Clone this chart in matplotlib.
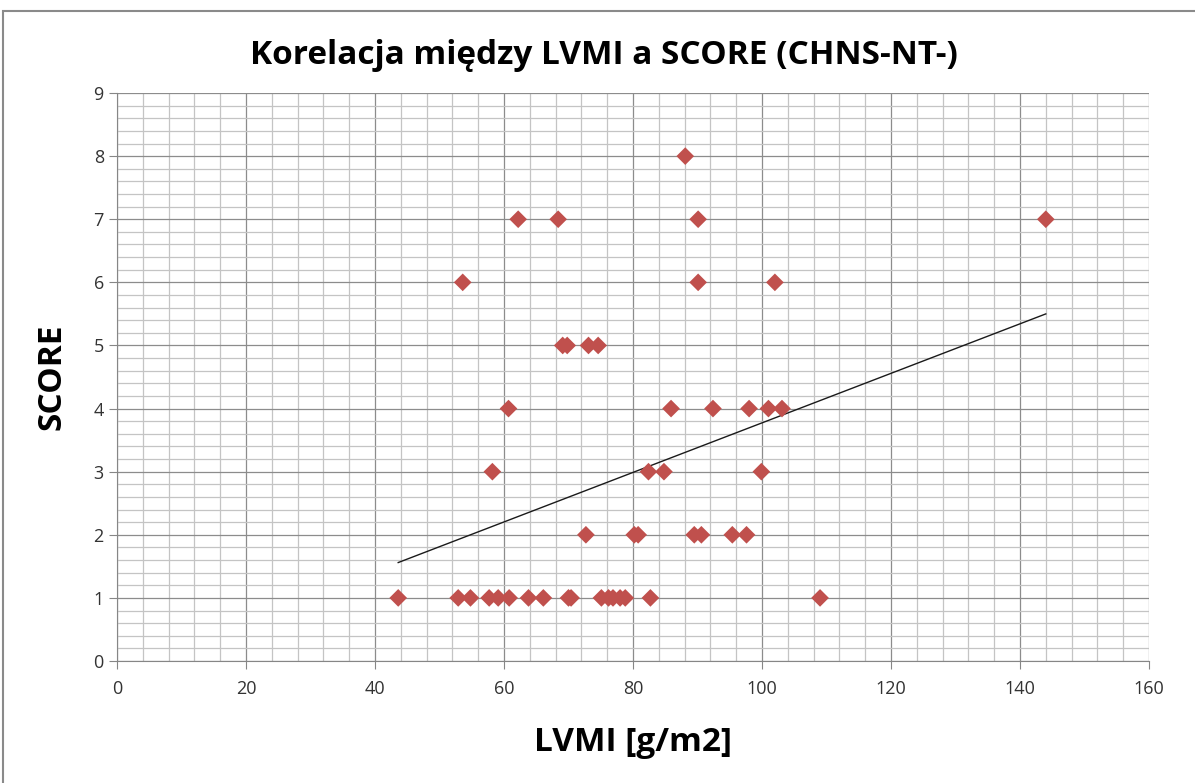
import matplotlib.pyplot as plt
import numpy as np
from matplotlib.ticker import MultipleLocator
from matplotlib.patches import Rectangle

# LVMI [g/m2] and SCORE values
lvmi = [43.6, 52.9, 54.8, 57.7, 59.1, 60.8, 63.8, 66.1, 70.0, 70.4,
        75.1, 76.2, 76.9, 78.0, 78.8, 82.7, 109.0,
        72.7, 80.2, 80.8, 89.5, 90.6, 95.4, 97.6,
        58.2, 82.4, 84.8, 99.9,
        60.7, 85.9, 92.4, 98.0, 101.0, 103.1,
        69.1, 69.8, 73.1, 74.6,
        53.6, 90.1, 102.0,
        62.2, 68.4, 90.1, 144.0,
        88.1]
score = [1, 1, 1, 1, 1, 1, 1, 1, 1, 1,
         1, 1, 1, 1, 1, 1, 1,
         2, 2, 2, 2, 2, 2, 2,
         3, 3, 3, 3,
         4, 4, 4, 4, 4, 4,
         5, 5, 5, 5,
         6, 6, 6,
         7, 7, 7, 7,
         8]

# linear trend line as drawn in the chart (end points)
trend_x = [43.6, 144.0]
trend_y = [1.56, 5.50]

fig = plt.figure(figsize=(11.95, 7.83), dpi=100)
ax = fig.add_axes([0.0979, 0.1558, 0.8636, 0.7254])

# outer chart frame
fig.patches.append(Rectangle((0.0025, -0.01), 1.2, 0.996, transform=fig.transFigure,
                             fill=False, edgecolor='#8a8a8a', linewidth=1.5))

ax.scatter(lvmi, score, marker='D', s=9.0**2, color='#C0504D', edgecolors='none', zorder=3)
ax.plot(trend_x, trend_y, color='#1a1a1a', linewidth=1.0, zorder=2)

ax.set_xlim(0, 160)
ax.set_ylim(0, 9)
ax.xaxis.set_major_locator(MultipleLocator(20))
ax.xaxis.set_minor_locator(MultipleLocator(4))
ax.yaxis.set_major_locator(MultipleLocator(1))
ax.yaxis.set_minor_locator(MultipleLocator(0.2))
ax.grid(which='major', color='#8c8c8c', linewidth=0.9)
ax.grid(which='minor', color='#c4c4c4', linewidth=0.9)
ax.set_axisbelow(True)

for side in ['top', 'right']:
    ax.spines[side].set_visible(False)
for side in ['left', 'bottom']:
    ax.spines[side].set_color('#868686')
ax.tick_params(which='major', length=6, color='#868686', labelsize=13, labelcolor='#333333')
ax.tick_params(which='minor', length=0)
ax.tick_params(axis='x', pad=8)
for lab in ax.get_xticklabels() + ax.get_yticklabels():
    lab.set_family('Open Sans')

ax.set_xlabel('LVMI [g/m2]', fontsize=24, fontweight='bold', family='Open Sans', labelpad=20)
ax.set_ylabel('SCORE', fontsize=24, fontweight='bold', family='Open Sans', labelpad=18)
fig.suptitle('Korelacja między LVMI a SCORE (CHNS-NT-)', x=0.505, y=0.95,
             fontsize=24, fontweight='bold', family='Open Sans')

fig.savefig('out.png', dpi=100)
